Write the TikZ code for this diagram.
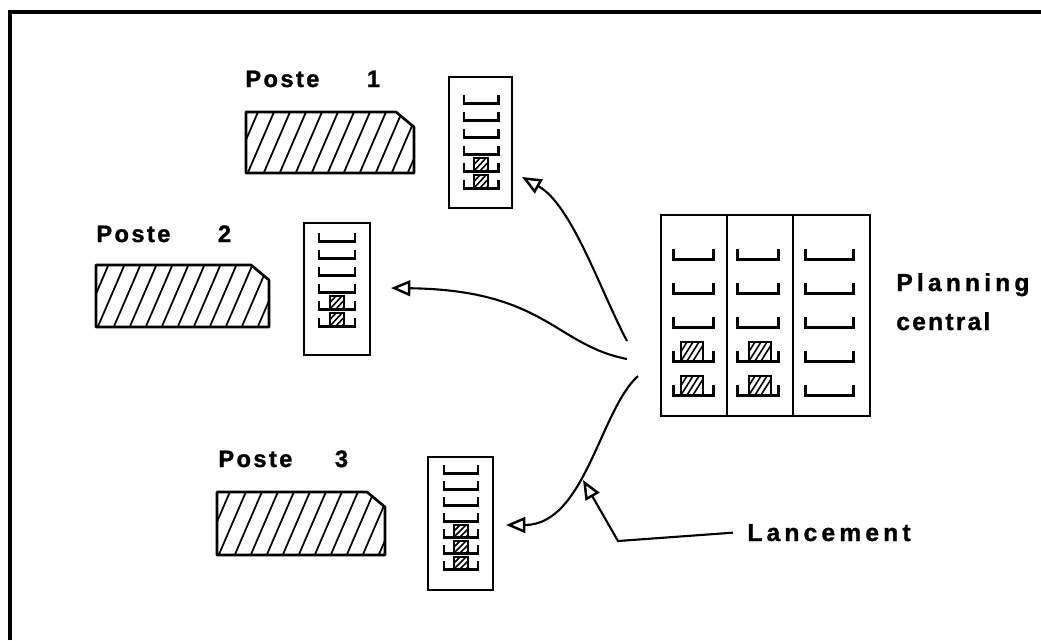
\documentclass[tikz,border=0pt]{standalone}
\usepackage{fontspec}
\setmainfont{Liberation Sans}
\usetikzlibrary{arrows.meta}
\tikzset{
  frame/.style={line width=1.8pt},
  outline/.style={line width=1.5pt},
  hatchline/.style={line width=1pt},
  slotline/.style={line width=1.7pt},
  boxnode/.style={draw, line width=1.5pt, inner sep=0pt},
  lbl/.style={font=\bfseries\fontsize{13.5}{16}\selectfont\addfontfeature{LetterSpace=10,FakeBold=1.2}, inner sep=0pt},
  wlbl/.style={font=\bfseries\fontsize{14}{16}\selectfont\addfontfeature{LetterSpace=17,FakeBold=1.2}, inner sep=0pt},
  nlbl/.style={font=\bfseries\fontsize{14}{16}\selectfont\addfontfeature{LetterSpace=9,FakeBold=1.2}, inner sep=0pt},
  conn/.style={line width=1.2pt, -{Triangle[open,length=11pt,width=9pt,line width=1.4pt]}},
}
% hatched work-station block: name, x1, y1, x2, y2
\newcommand\hatchblock[5]{%
  \coordinate (#1) at ({(#2+#4)/2},{(#3+#5)/2});
  \begin{scope}
    \clip (#2,#3) -- ({#4-18},#3) -- (#4,{#3+15}) -- (#4,#5) -- (#2,#5) -- cycle;
    \foreach \k in {-3,...,12} {\draw[hatchline] ({#2+16*\k},{#5+4}) -- ++(31,-72);}
  \end{scope}
  \draw[outline,line join=round] (#2,#3) -- ({#4-18},#3) -- (#4,{#3+15}) -- (#4,#5) -- (#2,#5) -- cycle;
}
% empty slot: x1, x2, y, tick
\newcommand\slotmark[4]{\draw[slotline] (#1,{#3-#4}) -- (#1,#3) -- (#2,#3) -- (#2,{#3-#4});}
% loaded item: x1, x2, ybottom, height
\newcommand\itemmark[4]{%
  \draw[line width=1.2pt] (#1,#3) rectangle (#2,{#3-#4});
  \begin{scope}
    \clip (#1,#3) rectangle (#2,{#3-#4});
    \foreach \k in {-1,0,1,2} {\draw[line width=0.9pt] ({#1+6*\k},#3) -- ++(12,{-#4});}
  \end{scope}}
\begin{document}
\begin{tikzpicture}[x=0.02cm,y=-0.02cm]
\useasboundingbox (0,0) rectangle (1041,640);
% frame
\draw[frame] (10,640) -- (10,12) -- (1041,12);

% stations
\hatchblock{poste1}{246}{112}{414}{173}
\hatchblock{poste2}{96}{265}{269}{327}
\hatchblock{poste3}{217}{492}{385}{555}

\node[lbl,anchor=base west] (t1) at (245,87) {Poste\hspace{0.95cm}1};
\node[lbl,anchor=base west] (t2) at (96,242) {Poste\hspace{0.95cm}2};
\node[lbl,anchor=base west] (t3) at (218,467) {Poste\hspace{0.85cm}3};

% station racks
\node[boxnode,minimum width=1.26cm,minimum height=2.62cm] (rack1) at (480.5,142.5) {};
\foreach \y in {103,120,137,154} {\slotmark{464}{498}{\y}{8}}
\foreach \y in {171,188} {\slotmark{464}{498}{\y}{8}\itemmark{474}{488}{\y}{13}}

\node[boxnode,minimum width=1.32cm,minimum height=2.64cm] (rack2) at (337,289) {};
\foreach \y in {241,258,275,292} {\slotmark{319}{355}{\y}{8}}
\foreach \y in {309,326} {\slotmark{319}{355}{\y}{8}\itemmark{330}{344}{\y}{13}}

\node[boxnode,minimum width=1.30cm,minimum height=2.66cm] (rack3) at (460.5,523.5) {};
\foreach \y in {473,489,505,521} {\slotmark{444}{478}{\y}{8}}
\foreach \y in {537,553,569} {\slotmark{444}{478}{\y}{8}\itemmark{454}{468}{\y}{12}}

% planning central
\node[boxnode,minimum width=4.18cm,minimum height=4.02cm] (plan) at (765.5,315.5) {};
\draw[outline] (727,215) -- (727,416) (793,215) -- (793,416);
\foreach \y in {259,293,327,361,395} {\slotmark{673}{713}{\y}{10}\slotmark{737}{778}{\y}{10}\slotmark{805}{853}{\y}{10}}
\foreach \y in {361,395} {\itemmark{681}{703}{\y}{19}\itemmark{749}{771}{\y}{19}}

\node[wlbl,anchor=base west] (pc1) at (896,291) {Planning};
\node[nlbl,anchor=base west] (pc2) at (896,330) {central};
\node[wlbl,anchor=base west] (lance) at (747,541) {Lancement};

% connectors
\coordinate (s1) at (627,341);
\coordinate (s2) at (627,359);
\coordinate (s3) at (638,376);
\coordinate (e1) at (522,177);
\coordinate (e2) at (391,288);
\coordinate (e3) at (506,525);
\coordinate (bend) at (618,541);
\coordinate (e4) at (583,480);
\draw[conn] (s1) .. controls (600,290) and (572,205) .. (e1);
\draw[conn] (s2) .. controls (555,345) and (545,290) .. (e2);
\draw[conn] (s3) .. controls (600,410) and (585,525) .. (e3);
\draw[conn] ([xshift=-8pt]lance.west) -- (bend) -- (e4);
\end{tikzpicture}
\end{document}
